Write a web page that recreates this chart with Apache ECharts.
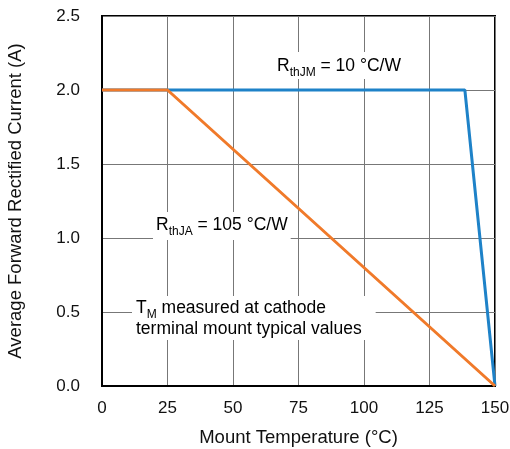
<!DOCTYPE html>
<html><head><meta charset="utf-8">
<script src="https://cdn.jsdelivr.net/npm/echarts@6/dist/echarts.min.js"></script>
<style>html,body{margin:0;padding:0;background:#fff}#c{width:510px;height:449px}</style>
</head><body><div id="c"></div>
<script>
const xTicks = [0, 25, 50, 75, 100, 125, 150];
const yTicks = [0.0, 0.5, 1.0, 1.5, 2.0, 2.5];
const rthJM = [[0, 2.0], [138.5, 2.0], [150, 0.0]];
const rthJA = [[0, 2.0], [25, 2.0], [150, 0.0]];
const FONT = 'Liberation Sans, Arial, sans-serif';
const chart = echarts.init(document.getElementById('c'));
const rich = {
  n: {fontSize: 17.5, fontFamily: FONT, color: '#111', lineHeight: 21, verticalAlign: 'bottom'},
  s: {fontSize: 12, fontFamily: FONT, color: '#111', lineHeight: 21, verticalAlign: 'bottom', padding: [0,0,-4,0]}
};
chart.setOption({
  animation: false,
  grid: {left: 102, right: 15, top: 16, bottom: 63, outerBoundsMode: 'none', containLabel: false,
         show: true, borderColor: '#000', borderWidth: 2},
  xAxis: {
    type: 'value', min: 0, max: 150, interval: 25,
    name: 'Mount Temperature (°C)', nameLocation: 'middle', nameGap: 42,
    nameTextStyle: {fontSize: 18.5, fontFamily: FONT, color: '#111'},
    axisLine: {show: true, lineStyle: {color: '#000', width: 2}},
    axisTick: {show: false},
    axisLabel: {fontSize: 17, fontFamily: FONT, color: '#111', margin: 14},
    splitLine: {show: true, lineStyle: {color: '#777', width: 1}}
  },
  yAxis: {
    type: 'value', min: 0, max: 2.5, interval: 0.5,
    name: 'Average Forward Rectified Current (A)', nameLocation: 'middle', nameGap: 77,
    nameTextStyle: {fontSize: 18.5, fontFamily: FONT, color: '#111'},
    axisLine: {show: true, lineStyle: {color: '#000', width: 2}},
    axisTick: {show: false},
    axisLabel: {fontSize: 17, fontFamily: FONT, color: '#111', margin: 22, formatter: v => v.toFixed(1)},
    splitLine: {show: true, lineStyle: {color: '#777', width: 1}}
  },
  series: [
    {type: 'line', data: rthJM, symbol: 'none', lineStyle: {color: '#1e82c8', width: 3}, z: 3},
    {type: 'line', data: rthJA, symbol: 'none', lineStyle: {color: '#f07a2a', width: 3}, z: 4}
  ],
  graphic: [
    {type: 'text', left: 274, top: 52, z: 10, style: {
      text: '{n|R}{s|thJM}{n| = 10 °C/W}', rich: rich, backgroundColor: '#fff', padding: [2,3,4,3]}},
    {type: 'text', left: 153, top: 212, z: 10, style: {
      text: '{n|R}{s|thJA}{n| = 105 °C/W}', rich: rich, backgroundColor: '#fff', padding: [1,3,6,3]}},
    {type: 'text', left: 132, top: 296, z: 10, style: {
      text: '{n|T}{s|M}{n| measured at cathode}\n{n|terminal mount typical values}', rich: rich, backgroundColor: '#fff', padding: [0,14,2,4]}}
  ]
});
</script></body></html>
